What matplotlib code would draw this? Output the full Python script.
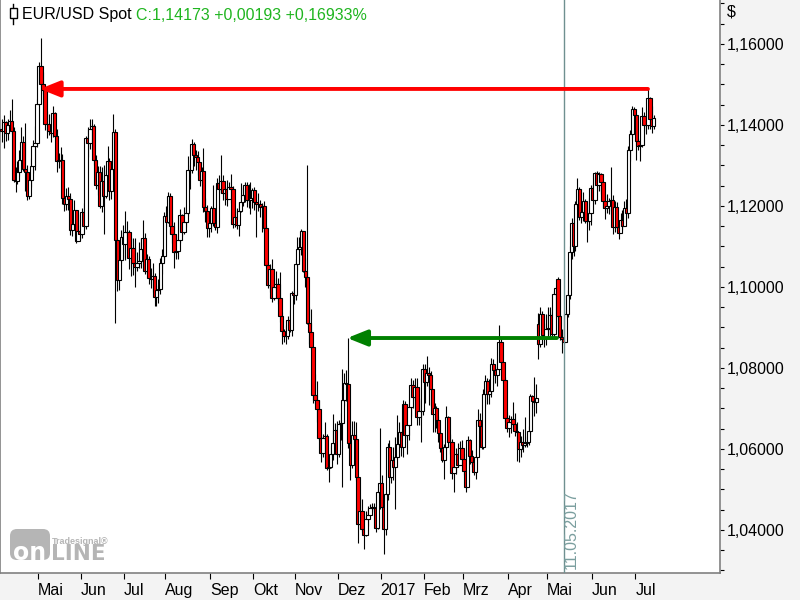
import numpy as np
import pandas as pd
import matplotlib
matplotlib.use("Agg")
from matplotlib import pyplot as plt
from matplotlib.lines import Line2D
from matplotlib.patches import Rectangle, FancyBboxPatch
from matplotlib.transforms import IdentityTransform
from matplotlib.ticker import MultipleLocator

plt.rcParams['font.family'] = ['Liberation Sans', 'DejaVu Sans']

# EUR/USD daily candles, one value per trading day
start_day = "2016-04-05"
first_open = 1.1390

closes = [
  # 2016-04
  1.1386, 1.1407, 1.1379, 1.1399, 1.1409, 1.1385, 1.1264, 1.1262, 1.1284, 1.1314, 1.1359, 1.1291, 1.1283, 1.1224, 1.1265, 1.1298, 1.1348, 1.1356, 1.1453,
  # 2016-05
  1.1546, 1.1500, 1.1487, 1.1403, 1.1402, 1.1384, 1.1380, 1.1429, 1.1373, 1.1312, 1.1313, 1.1313, 1.1219, 1.1204, 1.1225, 1.1218, 1.1141, 1.1155, 1.1189, 1.1114, 1.1138, 1.1131,
  # 2016-06
  1.1185, 1.1150, 1.1368, 1.1355, 1.1390, 1.1397, 1.1313, 1.1253, 1.1283, 1.1200, 1.1262, 1.1225, 1.1276, 1.1311, 1.1238, 1.1292, 1.1383, 1.1115, 1.1017, 1.1066, 1.1124, 1.1105,
  # 2016-07
  1.1136, 1.1135, 1.1072, 1.1096, 1.1059, 1.1050, 1.1058, 1.1063, 1.1093, 1.1121, 1.1040, 1.1069, 1.1022, 1.1019, 1.1027, 1.0975, 1.0993, 1.0996, 1.1059, 1.1077, 1.1175,
  # 2016-08
  1.1160, 1.1224, 1.1150, 1.1130, 1.1086, 1.1090, 1.1115, 1.1177, 1.1137, 1.1160, 1.1182, 1.1288, 1.1290, 1.1353, 1.1325, 1.1321, 1.1309, 1.1265, 1.1287, 1.1198, 1.1188, 1.1146, 1.1157,
  # 2016-09
  1.1196, 1.1157, 1.1148, 1.1257, 1.1241, 1.1262, 1.1232, 1.1241, 1.1217, 1.1247, 1.1241, 1.1155, 1.1172, 1.1152, 1.1188, 1.1211, 1.1228, 1.1253, 1.1214, 1.1216, 1.1220, 1.1240,
  # 2016-10
  1.1210, 1.1206, 1.1205, 1.1198, 1.1200, 1.1145, 1.1054, 1.1006, 1.1045, 1.0972, 1.0999, 1.1008, 1.0973, 1.0928, 1.0891, 1.0879, 1.0880, 1.0918, 1.0893, 1.0984, 1.0981,
  # 2016-11
  1.1057, 1.1094, 1.1099, 1.1138, 1.1040, 1.1025, 1.0910, 1.0889, 1.0853, 1.0733, 1.0720, 1.0698, 1.0628, 1.0589, 1.0627, 1.0633, 1.0553, 1.0555, 1.0587, 1.0615, 1.0648, 1.0588,
  # 2016-12
  1.0662, 1.0664, 1.0722, 1.0764, 1.0760, 1.0614, 1.0560, 1.0635, 1.0624, 1.0532, 1.0415, 1.0447, 1.0403, 1.0388, 1.0428, 1.0437, 1.0455, 1.0456, 1.0455, 1.0406, 1.0494, 1.0517,
  # 2017-01
  1.0457, 1.0403, 1.0490, 1.0604, 1.0532, 1.0573, 1.0555, 1.0580, 1.0613, 1.0643, 1.0604, 1.0710, 1.0634, 1.0660, 1.0703, 1.0758, 1.0728, 1.0753, 1.0679, 1.0694, 1.0693, 1.0798,
  # 2017-02
  1.0765, 1.0788, 1.0783, 1.0749, 1.0687, 1.0702, 1.0672, 1.0640, 1.0603, 1.0573, 1.0604, 1.0679, 1.0618, 1.0617, 1.0541, 1.0555, 1.0587, 1.0561, 1.0603, 1.0575,
  # 2017-03
  1.0546, 1.0506, 1.0622, 1.0583, 1.0569, 1.0544, 1.0580, 1.0672, 1.0656, 1.0604, 1.0735, 1.0767, 1.0737, 1.0742, 1.0811, 1.0796, 1.0783, 1.0798, 1.0865, 1.0814, 1.0770, 1.0677, 1.0652,
  # 2017-04
  1.0667, 1.0674, 1.0662, 1.0644, 1.0642, 1.0600, 1.0618, 1.0609, 1.0615, 1.0617, 1.0644, 1.0731, 1.0719, 1.0716, 1.0727, 1.0859, 1.0934, 1.0882, 1.0873, 1.0896,
  # 2017-05
  1.0899, 1.0930, 1.0885, 1.0982, 1.0998, 1.0928, 1.0876, 1.0872, 1.0865, 1.0933, 1.0981, 1.1087, 1.1158, 1.1101, 1.1206, 1.1242, 1.1174, 1.1184, 1.1213, 1.1163, 1.1163, 1.1183, 1.1244,
  # 2017-06
  1.1214, 1.1282, 1.1252, 1.1279, 1.1259, 1.1212, 1.1196, 1.1200, 1.1212, 1.1216, 1.1148, 1.1197, 1.1148, 1.1133, 1.1166, 1.1150, 1.1196, 1.1183, 1.1338, 1.1378, 1.1439, 1.1425,
  # 2017-07
  1.1361, 1.1349, 1.1350, 1.1422, 1.1400, 1.1399, 1.1466, 1.1414, 1.1398, 1.14173,
]

highs = [
  1.1416, 1.1425, 1.1411, 1.1415, 1.1437, 1.1465, 1.1395, 1.1297, 1.1310, 1.1339, 1.1396, 1.1372, 1.1404, 1.1301, 1.1283, 1.1318, 1.1364, 1.1397, 1.1463,
  1.1555, 1.1616, 1.1532, 1.1497, 1.1435, 1.1427, 1.1406, 1.1448, 1.1433, 1.1391, 1.1331, 1.1346, 1.1328, 1.1233, 1.1244, 1.1247, 1.1233, 1.1168, 1.1216, 1.1191, 1.1152, 1.1179,
  1.1196, 1.1208, 1.1374, 1.1395, 1.1415, 1.1416, 1.1403, 1.1327, 1.1299, 1.1298, 1.1297, 1.1300, 1.1290, 1.1348, 1.1319, 1.1306, 1.1428, 1.1389, 1.1120, 1.1088, 1.1140, 1.1153,
  1.1187, 1.1164, 1.1140, 1.1121, 1.1121, 1.1120, 1.1087, 1.1112, 1.1120, 1.1165, 1.1134, 1.1082, 1.1077, 1.1047, 1.1058, 1.1034, 1.1004, 1.1020, 1.1072, 1.1093, 1.1186,
  1.1200, 1.1234, 1.1233, 1.1166, 1.1161, 1.1104, 1.1126, 1.1192, 1.1180, 1.1198, 1.1199, 1.1323, 1.1301, 1.1366, 1.1358, 1.1339, 1.1335, 1.1308, 1.1296, 1.1343, 1.1219, 1.1202, 1.1171,
  1.1200, 1.1251, 1.1171, 1.1270, 1.1276, 1.1327, 1.1276, 1.1249, 1.1264, 1.1260, 1.1278, 1.1250, 1.1190, 1.1196, 1.1211, 1.1257, 1.1246, 1.1260, 1.1260, 1.1255, 1.1259, 1.1244,
  1.1246, 1.1215, 1.1232, 1.1215, 1.1208, 1.1212, 1.1152, 1.1062, 1.1056, 1.1069, 1.1021, 1.1039, 1.1021, 1.1038, 1.0939, 1.0896, 1.0906, 1.0929, 1.0944, 1.0989, 1.0996,
  1.1068, 1.1124, 1.1124, 1.1143, 1.1122, 1.1071, 1.1300, 1.0950, 1.0946, 1.0822, 1.0785, 1.0769, 1.0722, 1.0631, 1.0638, 1.0667, 1.0636, 1.0580, 1.0608, 1.0686, 1.0665, 1.0670,
  1.0671, 1.0690, 1.0797, 1.0787, 1.0795, 1.0874, 1.0616, 1.0668, 1.0668, 1.0667, 1.0497, 1.0479, 1.0476, 1.0433, 1.0448, 1.0459, 1.0464, 1.0467, 1.0466, 1.0457, 1.0498, 1.0652,
  1.0537, 1.0485, 1.0495, 1.0616, 1.0621, 1.0585, 1.0606, 1.0630, 1.0685, 1.0667, 1.0619, 1.0720, 1.0719, 1.0680, 1.0710, 1.0775, 1.0771, 1.0775, 1.0776, 1.0726, 1.0720, 1.0809,
  1.0811, 1.0829, 1.0802, 1.0793, 1.0745, 1.0713, 1.0706, 1.0681, 1.0642, 1.0622, 1.0613, 1.0705, 1.0681, 1.0638, 1.0625, 1.0573, 1.0602, 1.0615, 1.0619, 1.0621,
  1.0590, 1.0561, 1.0633, 1.0625, 1.0598, 1.0571, 1.0600, 1.0699, 1.0689, 1.0667, 1.0747, 1.0783, 1.0776, 1.0772, 1.0824, 1.0822, 1.0805, 1.0817, 1.0906, 1.0875, 1.0816, 1.0778, 1.0691,
  1.0684, 1.0681, 1.0717, 1.0689, 1.0667, 1.0619, 1.0633, 1.0650, 1.0678, 1.0632, 1.0656, 1.0737, 1.0734, 1.0778, 1.0760, 1.0937, 1.0950, 1.0940, 1.0911, 1.0933,
  1.0951, 1.0951, 1.0938, 1.0990, 1.1000, 1.1024, 1.0934, 1.0897, 1.0888, 1.0940, 1.0993, 1.1100, 1.1171, 1.1160, 1.1213, 1.1268, 1.1247, 1.1209, 1.1234, 1.1217, 1.1185, 1.1220, 1.1252,
  1.1255, 1.1285, 1.1286, 1.1285, 1.1282, 1.1262, 1.1227, 1.1229, 1.1220, 1.1296, 1.1228, 1.1213, 1.1211, 1.1154, 1.1183, 1.1190, 1.1213, 1.1217, 1.1349, 1.1387, 1.1446, 1.1445,
  1.1426, 1.1369, 1.1365, 1.1445, 1.1432, 1.1418, 1.1489, 1.1470, 1.1447, 1.1425,
]

lows = [
  1.1357, 1.1344, 1.1360, 1.1364, 1.1394, 1.1378, 1.1258, 1.1235, 1.1255, 1.1275, 1.1305, 1.1286, 1.1237, 1.1216, 1.1218, 1.1247, 1.1282, 1.1289, 1.1345,
  1.1451, 1.1493, 1.1476, 1.1387, 1.1369, 1.1375, 1.1358, 1.1370, 1.1370, 1.1283, 1.1294, 1.1296, 1.1206, 1.1188, 1.1189, 1.1190, 1.1129, 1.1126, 1.1157, 1.1108, 1.1124, 1.1118,
  1.1122, 1.1144, 1.1142, 1.1321, 1.1341, 1.1353, 1.1300, 1.1243, 1.1227, 1.1195, 1.1185, 1.1131, 1.1219, 1.1267, 1.1214, 1.1217, 1.1285, 1.0912, 1.0990, 1.0992, 1.1059, 1.1071,
  1.1066, 1.1113, 1.1044, 1.1028, 1.1029, 1.0999, 1.1039, 1.1047, 1.1048, 1.1074, 1.1032, 1.1034, 1.1007, 1.0997, 1.0988, 1.0952, 1.0954, 1.0961, 1.0982, 1.1031, 1.1066,
  1.1148, 1.1158, 1.1131, 1.1108, 1.1046, 1.1069, 1.1070, 1.1108, 1.1126, 1.1132, 1.1149, 1.1176, 1.1243, 1.1282, 1.1299, 1.1290, 1.1276, 1.1249, 1.1257, 1.1185, 1.1160, 1.1124, 1.1123,
  1.1136, 1.1150, 1.1141, 1.1134, 1.1232, 1.1231, 1.1214, 1.1202, 1.1200, 1.1221, 1.1208, 1.1146, 1.1147, 1.1142, 1.1125, 1.1184, 1.1200, 1.1209, 1.1198, 1.1195, 1.1180, 1.1196,
  1.1191, 1.1124, 1.1187, 1.1173, 1.1135, 1.1138, 1.1049, 1.0997, 1.0987, 1.0964, 1.0968, 1.0988, 1.0957, 1.0913, 1.0858, 1.0863, 1.0859, 1.0871, 1.0888, 1.0878, 1.0959,
  1.0969, 1.1041, 1.1063, 1.1080, 1.1038, 1.0999, 1.0908, 1.0860, 1.0848, 1.0713, 1.0711, 1.0666, 1.0621, 1.0569, 1.0581, 1.0604, 1.0547, 1.0518, 1.0553, 1.0574, 1.0614, 1.0564,
  1.0580, 1.0623, 1.0505, 1.0707, 1.0719, 1.0603, 1.0524, 1.0553, 1.0605, 1.0520, 1.0367, 1.0414, 1.0394, 1.0352, 1.0385, 1.0411, 1.0437, 1.0444, 1.0448, 1.0395, 1.0403, 1.0453,
  1.0460, 1.0340, 1.0388, 1.0475, 1.0525, 1.0515, 1.0524, 1.0453, 1.0575, 1.0607, 1.0582, 1.0579, 1.0627, 1.0587, 1.0623, 1.0681, 1.0702, 1.0722, 1.0658, 1.0659, 1.0618, 1.0684,
  1.0714, 1.0756, 1.0708, 1.0706, 1.0643, 1.0641, 1.0652, 1.0617, 1.0593, 1.0567, 1.0525, 1.0599, 1.0605, 1.0588, 1.0526, 1.0494, 1.0539, 1.0556, 1.0562, 1.0563,
  1.0535, 1.0495, 1.0506, 1.0564, 1.0555, 1.0536, 1.0525, 1.0583, 1.0641, 1.0599, 1.0600, 1.0705, 1.0710, 1.0712, 1.0728, 1.0758, 1.0762, 1.0755, 1.0803, 1.0810, 1.0763, 1.0667, 1.0643,
  1.0630, 1.0640, 1.0652, 1.0633, 1.0570, 1.0569, 1.0580, 1.0592, 1.0606, 1.0604, 1.0610, 1.0637, 1.0700, 1.0682, 1.0690, 1.0822, 1.0852, 1.0875, 1.0851, 1.0856,
  1.0882, 1.0873, 1.0876, 1.0877, 1.0950, 1.0921, 1.0868, 1.0838, 1.0859, 1.0866, 1.0925, 1.0970, 1.1069, 1.1076, 1.1090, 1.1195, 1.1165, 1.1158, 1.1163, 1.1159, 1.1110, 1.1141, 1.1152,
  1.1204, 1.1204, 1.1237, 1.1238, 1.1230, 1.1196, 1.1168, 1.1182, 1.1180, 1.1187, 1.1132, 1.1136, 1.1142, 1.1118, 1.1134, 1.1140, 1.1151, 1.1167, 1.1171, 1.1312, 1.1367, 1.1395,
  1.1313, 1.1338, 1.1312, 1.1346, 1.1384, 1.1378, 1.1391, 1.1390, 1.1380, 1.1390,
]

# weekend gap openings that do not start at the previous close
gap_opens = {"2017-04-24": 1.0908, "2017-05-08": 1.1020}

month_names = ["Mai", "Jun", "Jul", "Aug", "Sep", "Okt", "Nov", "Dez", "2017",
               "Feb", "Mrz", "Apr", "Mai", "Jun", "Jul"]
price_ticks = [1.04, 1.06, 1.08, 1.10, 1.12, 1.14, 1.16]

red_level = 1.1489
red_from, red_to = "2016-05-03", "2017-07-11"
green_level = 1.0874
green_from, green_to = "2016-12-08", "2017-05-05"
marker_day = "2017-05-11"

title_text = "EUR/USD Spot"
quote_text = "C:1,14173 +0,00193 +0,16933%"

assert len(closes) == len(highs) == len(lows)

days = pd.bdate_range(start_day, periods=len(closes))
pos = np.arange(len(days))

def day_pos(d):
  return days.get_loc(pd.Timestamp(d))

opens = [first_open] + closes[:-1]
for d, o in gap_opens.items():
  opens[day_pos(d)] = o
opens = np.array(opens)
closes = np.array(closes)
highs = np.maximum(np.array(highs), np.maximum(opens, closes))
lows = np.minimum(np.array(lows), np.minimum(opens, closes))

W, H = 800, 600
fig = plt.figure(figsize=(8, 6), dpi=100, facecolor="#f3f3f3")
ax = fig.add_axes([0, 27 / H, 720 / W, 573 / H])
ax.set_facecolor("white")

# wicks first, bodies on top
ax.vlines(pos, lows, highs, color="black", lw=0.8, zorder=2)
fills = np.where(closes < opens, "#ff0000", "#ffffff")
ax.bar(pos, np.abs(closes - opens), bottom=np.minimum(opens, closes), width=1.7,
       color=fills, edgecolor="black", linewidth=0.8, zorder=3)

# horizontal arrows
arrow_style = "-|>,head_length=1.2,head_width=0.48"
ax.annotate("", xy=(day_pos(red_from) - 0.6, red_level), xytext=(day_pos(red_to), red_level),
            arrowprops=dict(arrowstyle=arrow_style, color="#ff0000",
                            lw=2.8, shrinkA=0, shrinkB=0), zorder=5)
ax.annotate("", xy=(day_pos(green_from) - 0.6, green_level), xytext=(day_pos(green_to) + 0.5, green_level),
            arrowprops=dict(arrowstyle=arrow_style, color="#008000",
                            lw=2.8, shrinkA=0, shrinkB=0), zorder=5)

# date marker line
mpos = day_pos(marker_day)
ax.axvline(mpos, color="#6f9090", lw=1, zorder=4)

ax.set_xlim(-1.8 / 1.958, (720 - 1.8) / 1.958)
ax.set_ylim(1.02938, 1.17086)
ylo = ax.get_ylim()[0]
ax.text(mpos + 3.7, ylo + 0.0009, marker_day[8:10] + "." + marker_day[5:7] + "." + marker_day[:4],
        rotation=90, ha="center", va="bottom", color="#7a9e9e", fontsize=11.5, zorder=6)

# axes / ticks
ax.spines["top"].set_visible(False)
for s in ["left", "bottom", "right"]:
  ax.spines[s].set_color("#808080")
  ax.spines[s].set_linewidth(1.2)

ax.yaxis.tick_right()
ax.set_yticks(price_ticks)
ax.set_yticklabels(["{:.5f}".format(v).replace(".", ",") for v in price_ticks])
ax.yaxis.set_minor_locator(MultipleLocator(0.005))
ax.tick_params(axis="y", which="both", direction="out", length=3, width=0.8, pad=2,
               labelsize=11.5, colors="black")

month_starts = pd.date_range("2016-05-01", "2017-07-01", freq="MS")
tick_pos = [np.searchsorted(days, m) - 0.5 for m in month_starts]
ax.set_xticks(tick_pos)
ax.set_xticklabels(month_names)
for lbl in ax.get_xticklabels():
  lbl.set_horizontalalignment("left")
  lbl.set_family(["Liberation Sans Narrow", "Liberation Sans", "DejaVu Sans"])
ax.tick_params(axis="x", direction="out", length=4, width=0.8, pad=3, labelsize=11.5,
               colors="black")

def px(x, y):
  return x / W, 1 - y / H

# title with candle icon
fig.add_artist(Line2D([13 / W, 13 / W], [1 - 4 / H, 1 - 24 / H], color="black", lw=1,
                      transform=fig.transFigure))
fig.add_artist(Rectangle(px(9.5, 18), 7 / W, 10 / H, facecolor="white", edgecolor="black",
                         lw=1, transform=fig.transFigure, zorder=3))
t1 = fig.text(*px(22, 15), title_text, ha="left", va="center", fontsize=11.5, color="black")
ax.annotate(quote_text, xy=(1, 0), xycoords=t1, xytext=(3.5, 0), textcoords="offset points",
            ha="left", va="bottom", fontsize=11.5, color="#1fb51f")

fig.text(*px(727, 12), "$", ha="left", va="center", fontsize=11.5)

# watermark logo (display pixels, origin bottom-left)
logo_grey = "#b5b5b5"
fig.add_artist(FancyBboxPatch((10, H - 560), 40, 31, boxstyle="round,pad=0,rounding_size=7",
                              fc=logo_grey, ec="none", transform=IdentityTransform()))
fig.text(*px(30, 560), "on", ha="center", va="baseline", fontsize=17, fontweight="bold",
         color="white", family="DejaVu Sans")
fig.text(*px(51, 560), "LINE", ha="left", va="baseline", fontsize=15.5, fontweight="bold",
         color=logo_grey, family="DejaVu Sans")
fig.text(*px(52, 541), "Tradesignal\u00ae", ha="left", va="center", fontsize=6.5, fontweight="bold",
         color=logo_grey)

fig.savefig("out.png", dpi=100, facecolor=fig.get_facecolor())
